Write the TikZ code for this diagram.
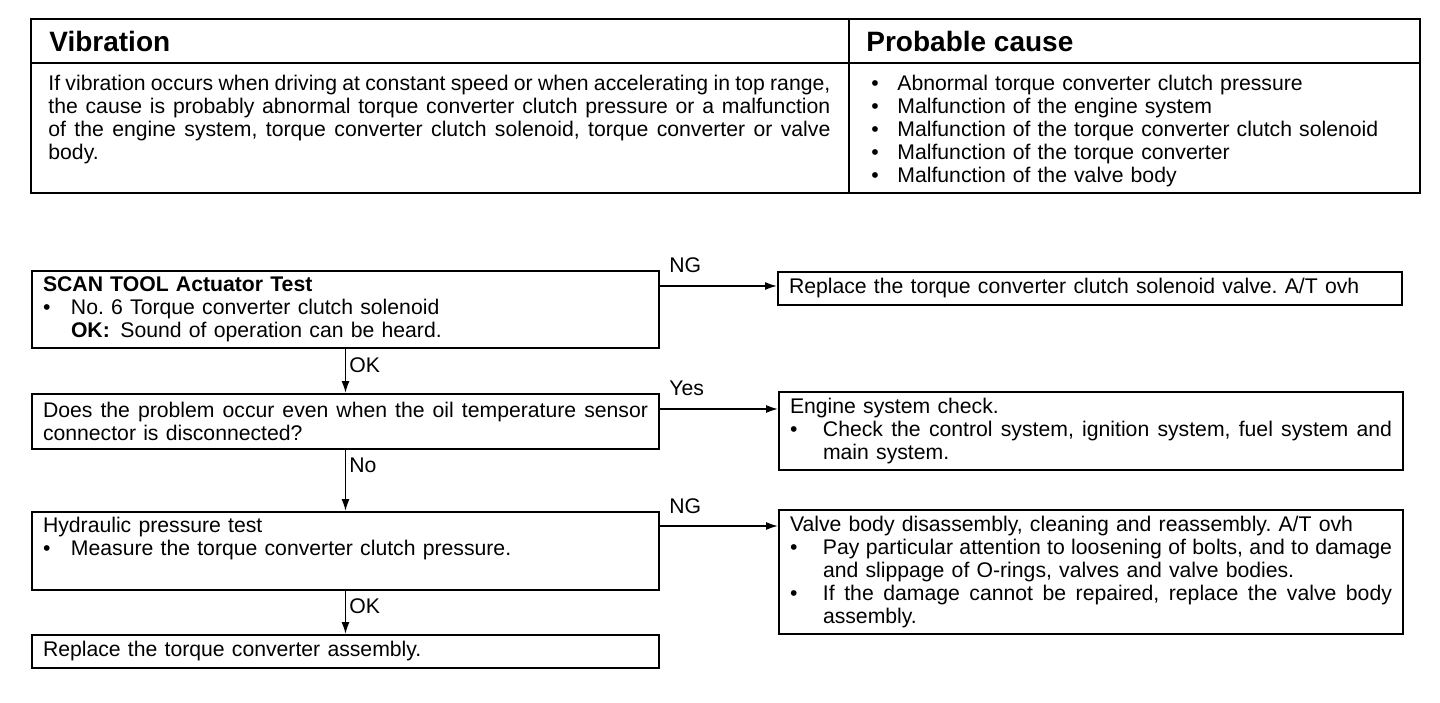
\documentclass[tikz,border=0pt]{standalone}
\usepackage{fontspec}
\setmainfont{Liberation Sans}
\usetikzlibrary{arrows.meta}
\usetikzlibrary{positioning, calc}

\newcommand{\bodyfont}{\fontsize{10.6}{11.5}\selectfont\frenchspacing
  \spaceskip=0.34em plus 0.17em minus 0.12em}
\newcommand{\bitem}[2][14pt]{\noindent\hangindent=#1\hangafter=1%
  \makebox[#1][l]{\textbullet}#2\par}

\begin{document}
\begin{tikzpicture}[
    x=0.5pt, y=0.5pt,
    box/.style={draw, line width=1pt, anchor=north west, inner xsep=5.5pt,
                inner ysep=2.5pt, align=justify, font=\bodyfont},
    leftbox/.style={box, text width=302.5pt},
    rightbox/.style={box, text width=301pt},
    lbl/.style={font=\bodyfont, inner sep=1.5pt},
    head/.style={font=\fontsize{14}{16}\selectfont\bfseries, anchor=west,
                 inner sep=0pt},
    cell/.style={font=\bodyfont, anchor=north west, inner sep=0pt},
    arr/.style={line width=0.8pt, -{Latex[length=6pt,width=4pt]}},
  ]
  \useasboundingbox (0,0) rectangle (1440,-702);

  % ---- table ----
  \draw[line width=1.4pt] (31,-19) rectangle (1420,-193);
  \draw[line width=0.8pt] (31,-63) -- (1420,-63);
  \draw[line width=0.8pt] (849,-19) -- (849,-193);
  \node[head] (hvib) at (49,-41) {Vibration};
  \node[head] (hcause) at (866,-41) {Probable cause};
  \node[cell, text width=391pt, align=justify] (desc) at (48,-75)
    {If vibration occurs when driving at constant speed or when accelerating in top range,\linebreak
     the cause is probably abnormal torque converter clutch pressure or a malfunction\linebreak
     of the engine system, torque converter clutch solenoid, torque converter or valve\linebreak
     body.};
  \node[cell, text width=270pt, align=left] (causes) at (871,-75)
    {\bitem[13pt]{Abnormal torque converter clutch pressure}
     \bitem[13pt]{Malfunction of the engine system}
     \bitem[13pt]{Malfunction of the torque converter clutch solenoid}
     \bitem[13pt]{Malfunction of the torque converter}
     \bitem[13pt]{Malfunction of the valve body}};

  % ---- flow chart, left column ----
  \node[leftbox, minimum height=38.5pt] (scan) at (31,-270)
    {\textbf{SCAN TOOL Actuator Test}\par
     \bitem{No. 6 Torque converter clutch solenoid\newline
       \textbf{OK:}\enspace Sound of operation can be heard.}};
  \node[leftbox, minimum height=27.5pt] (oiltemp) at (31,-393)
    {Does the problem occur even when the oil temperature sensor\linebreak
     connector is disconnected?};
  \node[leftbox, minimum height=38pt] (hydr) at (31,-511)
    {Hydraulic pressure test\par
     \bitem{Measure the torque converter clutch pressure.}\strut};
  \node[leftbox, minimum height=16.5pt] (conv) at (31,-634)
    {Replace the torque converter assembly.};

  % ---- flow chart, right column ----
  \node[rightbox, minimum height=16.5pt] (solv) at (777,-271)
    {Replace the torque converter clutch solenoid valve. A/T ovh};
  \node[rightbox, minimum height=39pt] (engine) at (778,-391)
    {Engine system check.\par
     \bitem[16.5pt]{Check the control system, ignition system, fuel system and\linebreak
       main system.}};
  \node[rightbox, minimum height=62pt] (vbody) at (778,-509)
    {Valve body disassembly, cleaning and reassembly. A/T ovh\par
     \bitem[16.5pt]{Pay particular attention to loosening of bolts, and to damage\linebreak
       and slippage of O-rings, valves and valve bodies.}
     \bitem[16.5pt]{If the damage cannot be repaired, replace the valve body\linebreak
       assembly.}};

  % ---- connectors ----
  \draw[arr] (scan.south) -- node[lbl, right, pos=0.36] (ok1) {OK} (oiltemp.north);
  \draw[arr] (oiltemp.south) -- node[lbl, right, pos=0.25] (no1) {No} (hydr.north);
  \draw[arr] (hydr.south) -- node[lbl, right, pos=0.36] (ok2) {OK} (conv.north);

  \coordinate (a1) at ([yshift=-8pt]scan.north east);
  \coordinate (b1) at ([yshift=-8pt]oiltemp.north east);
  \coordinate (c1) at ([yshift=-7.5pt]hydr.north east);
  \draw[arr] (a1) -- (a1 -| solv.west);
  \draw[arr] (b1) -- (b1 -| engine.west);
  \draw[arr] (c1) -- (c1 -| vbody.west);
  \node[lbl, anchor=south west] (ng1) at ([xshift=3pt, yshift=-3pt]scan.north east) {NG};
  \node[lbl, anchor=south west] (yes1) at ([xshift=3pt, yshift=-3pt]oiltemp.north east) {Yes};
  \node[lbl, anchor=south west] (ng2) at ([xshift=3pt, yshift=-3pt]hydr.north east) {NG};
\end{tikzpicture}
\end{document}
